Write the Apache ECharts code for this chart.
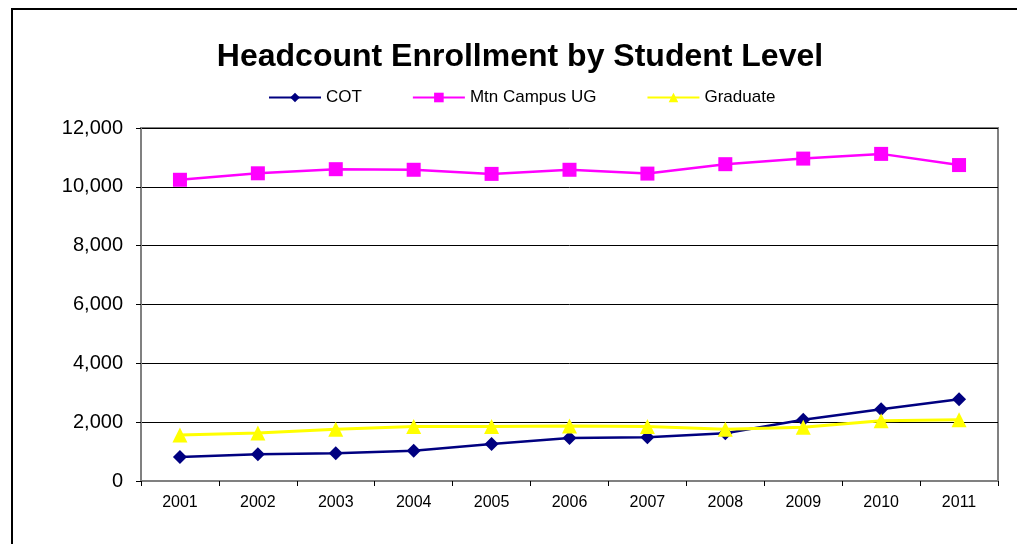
<!DOCTYPE html>
<html>
<head>
<meta charset="utf-8">
<title>Headcount Enrollment by Student Level</title>
<script src="https://cdn.jsdelivr.net/npm/echarts@6/dist/echarts.min.js"></script>
<style>
  html, body { margin: 0; padding: 0; background: #fff; }
  #chart { width: 1017px; height: 544px; }
</style>
</head>
<body>
<div id="chart"></div>
<script>
// data
const years = ['2001', '2002', '2003', '2004', '2005', '2006', '2007', '2008', '2009', '2010', '2011']
const cot = [820, 910, 940, 1030, 1260, 1460, 1490, 1620, 2080, 2440, 2780]
const mtnCampusUG = [10240, 10460, 10600, 10580, 10440, 10580, 10450, 10770, 10960, 11120, 10740]
const graduate = [1560, 1630, 1760, 1850, 1850, 1870, 1850, 1760, 1830, 2050, 2080]
const yTicks = [0, 2000, 4000, 6000, 8000, 10000, 12000]

const FONT = "'Liberation Sans', Arial, sans-serif"

const makeSeries = (name, data, color, symbol, size, width) => ({
  name,
  type: 'line',
  data,
  symbol,
  symbolSize: size,
  showSymbol: true,
  lineStyle: { color, width },
  itemStyle: { color },
  emphasis: { disabled: true },
  animation: false
})

const chart = echarts.init(document.getElementById('chart'))

chart.setOption({
  animation: false,
  title: {
    text: 'Headcount Enrollment by Student Level',
    left: 515,
    top: 36,
    textAlign: 'center',
    textStyle: { fontFamily: FONT, fontSize: 32, fontWeight: 'bold', color: '#000' }
  },
  legend: {
    top: 84,
    left: 263,
    itemWidth: 52,
    itemHeight: 12,
    itemGap: 50,
    textStyle: { fontFamily: FONT, fontSize: 17, color: '#000' },
    data: ['COT', 'Mtn Campus UG', 'Graduate']
  },
  grid: {
    left: 141,
    right: 19,
    top: 128,
    bottom: 63,
    show: true,
    borderColor: '#808080',
    borderWidth: 2,
    backgroundColor: 'transparent'
  },
  xAxis: {
    type: 'category',
    data: years,
    boundaryGap: true,
    axisLine: { lineStyle: { color: '#808080', width: 2 } },
    axisTick: { show: true, alignWithLabel: false, length: 5, inside: false, lineStyle: { color: '#000' } },
    axisLabel: { fontFamily: FONT, fontSize: 16, color: '#000', margin: 14 },
    splitLine: { show: false }
  },
  yAxis: {
    type: 'value',
    min: yTicks[0],
    max: yTicks[yTicks.length - 1],
    interval: yTicks[1] - yTicks[0],
    axisLine: { show: true, lineStyle: { color: '#808080', width: 2 } },
    axisTick: { show: true, length: 5, lineStyle: { color: '#000' } },
    axisLabel: {
      fontFamily: FONT,
      fontSize: 20,
      color: '#000',
      margin: 18,
      formatter: v => v.toLocaleString('en-US')
    },
    splitLine: { show: true, lineStyle: { color: '#000', width: 1 } }
  },
  graphic: [{
    // outer chart border
    type: 'rect',
    shape: { x: 12, y: 9, width: 1020, height: 560 },
    style: { fill: 'none', stroke: '#000', lineWidth: 2 },
    silent: true
  }],
  series: [
    makeSeries('COT', cot, '#000080', 'diamond', 14, 2.5),
    makeSeries('Mtn Campus UG', mtnCampusUG, '#FF00FF', 'rect', 14, 2.5),
    makeSeries('Graduate', graduate, '#FFFF00', 'triangle', 15, 3)
  ]
})
</script>
</body>
</html>
